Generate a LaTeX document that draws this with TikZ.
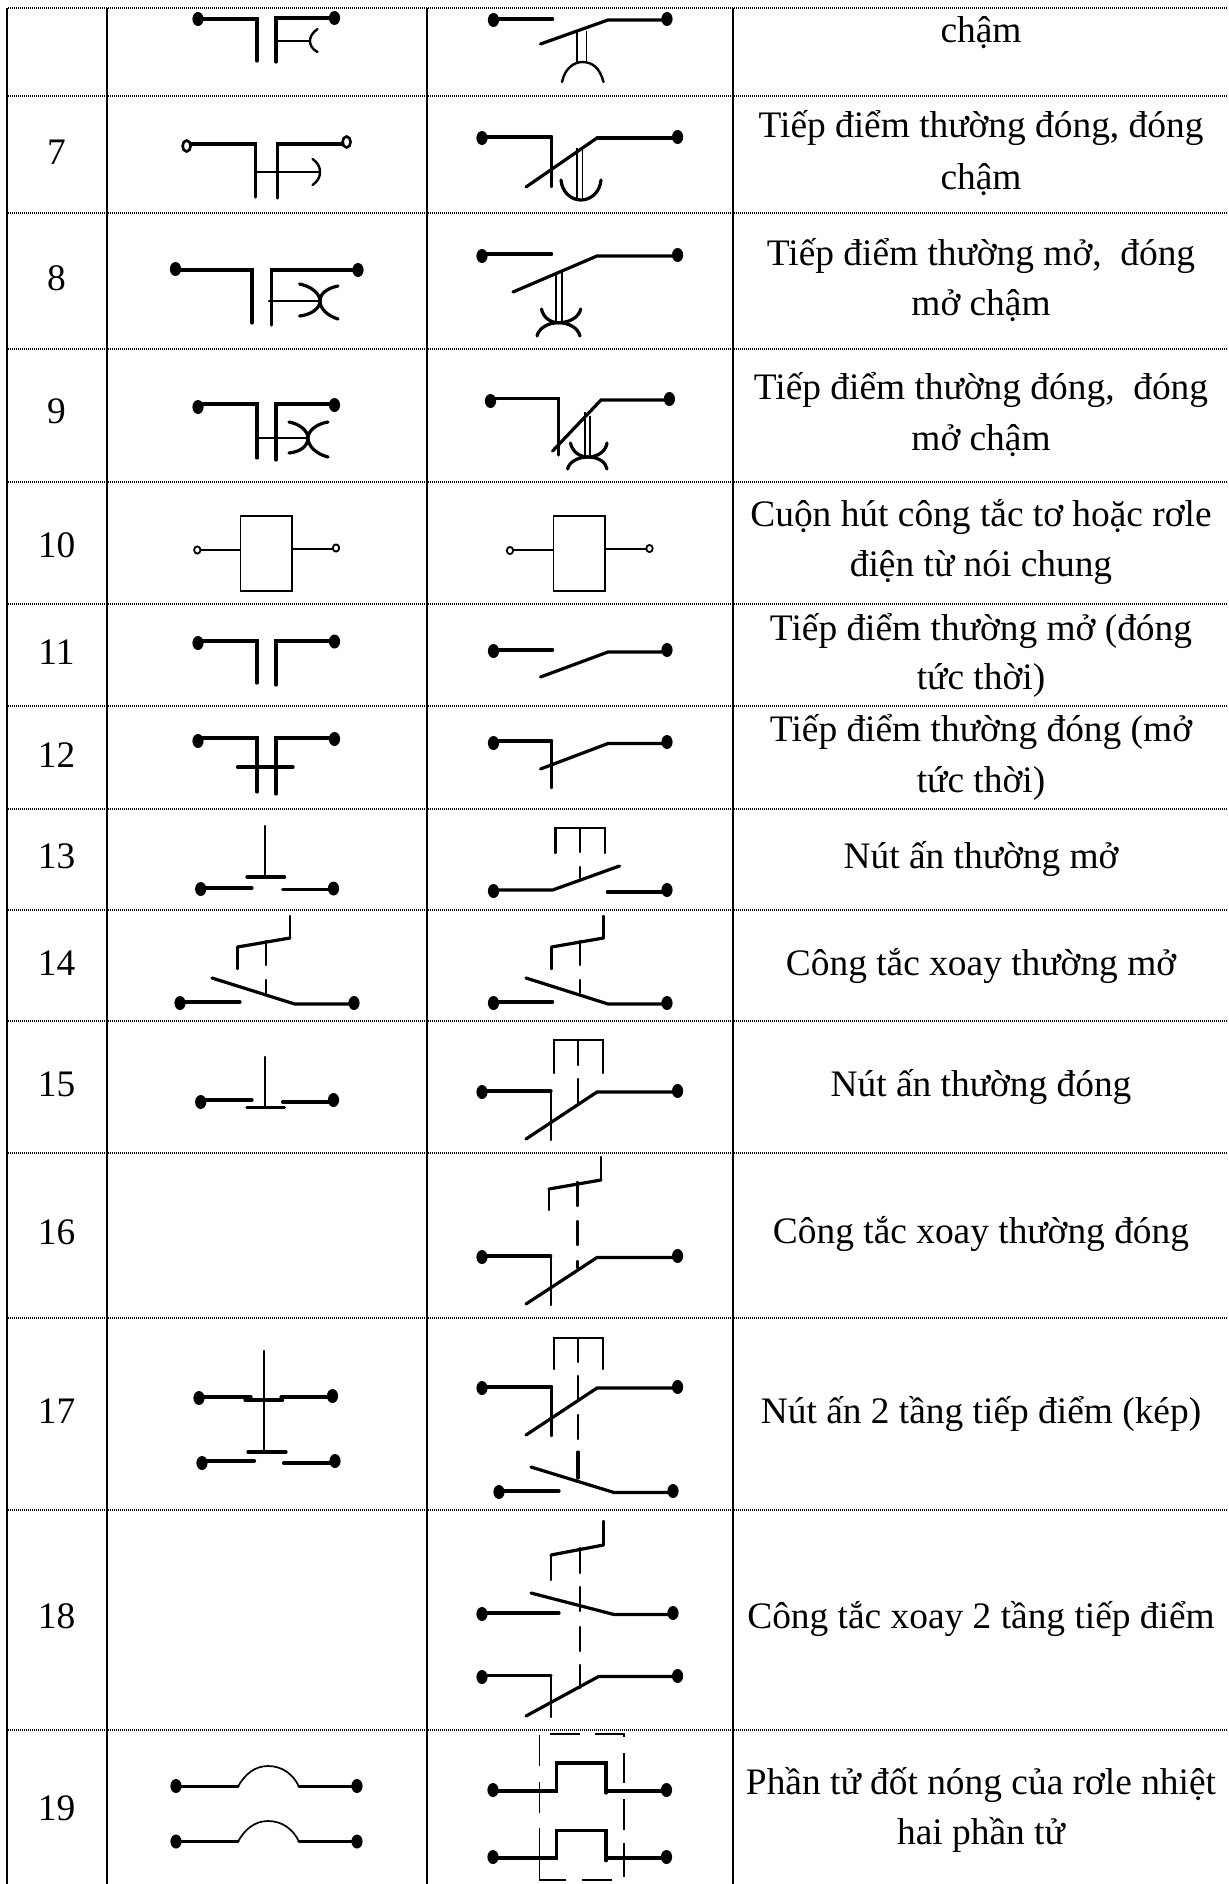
\documentclass[tikz,border=0pt]{standalone}
\usepackage{fontspec}
\setmainfont{Liberation Serif}
\tikzset{
  wire/.style={line width=1.6pt,line cap=round,line join=miter},
  fine/.style={line width=1.2pt,line cap=round,line join=miter},
  thinl/.style={line width=0.85pt,line join=miter},
  hair/.style={line width=0.7pt},
  vrule/.style={line width=1.4pt},
  hrule/.style={line width=0.8pt,dash pattern=on 0.5pt off 0.5pt},
  txt/.style={inner sep=0pt,anchor=base,font=\fontsize{18.7}{22}\selectfont}
}
\newcommand{\sdot}[2]{\fill (#1,#2) ellipse [x radius=5.6,y radius=7];}
\newcommand{\hdot}[2]{\draw[line width=1.3pt,fill=white] (#1,#2) ellipse [x radius=4,y radius=5.5];}
\newcommand{\mdot}[2]{\draw[line width=.9pt,fill=white] (#1,#2) ellipse [x radius=3.2,y radius=3.6];}
\begin{document}
\begin{tikzpicture}[x=0.5pt,y=-0.5pt]
\useasboundingbox (0,0) rectangle (1228,1884);
\fill[white] (0,0) rectangle (1228,1884);
% table rules
\foreach \yy in {8,96,213,349,482,604,706,809,910,1021,1153,1318,1510,1730}
  \draw[hrule] (8,\yy) -- (1228,\yy);
\foreach \xx in {7,107,427,733}
  \draw[vrule] (\xx,8) -- (\xx,1884);
% numbers
\node[txt] (n7) at (56.5,164) {7};
\node[txt] (n8) at (56.5,290) {8};
\node[txt] (n9) at (56.5,423) {9};
\node[txt] (n10) at (56.5,557) {10};
\node[txt] (n11) at (56.5,664) {11};
\node[txt] (n12) at (56.5,767) {12};
\node[txt] (n13) at (56.5,868) {13};
\node[txt] (n14) at (56.5,975) {14};
\node[txt] (n15) at (56.5,1096) {15};
\node[txt] (n16) at (56.5,1244) {16};
\node[txt] (n17) at (56.5,1423) {17};
\node[txt] (n18) at (56.5,1628) {18};
\node[txt] (n19) at (56.5,1820) {19};
% descriptions
\node[txt] (d6b) at (981,43) {chậm};
\node[txt] (d7a) at (981,138) {Tiếp điểm thường đóng, đóng};
\node[txt] (d7b) at (981,189) {chậm};
\node[txt] (d8a) at (981,265) {Tiếp điểm thường mở,\ \ đóng};
\node[txt] (d8b) at (981,315) {mở chậm};
\node[txt] (d9a) at (981,399) {Tiếp điểm thường đóng,\ \ đóng};
\node[txt] (d9b) at (981,450) {mở chậm};
\node[txt] (d10a) at (981,526) {Cuộn hút công tắc tơ hoặc rơle};
\node[txt] (d10b) at (981,576) {điện từ nói chung};
\node[txt] (d11a) at (981,640) {Tiếp điểm thường mở (đóng};
\node[txt] (d11b) at (981,689) {tức thời)};
\node[txt] (d12a) at (981,741) {Tiếp điểm thường đóng (mở};
\node[txt] (d12b) at (981,792) {tức thời)};
\node[txt] (d13) at (981,868) {Nút ấn thường mở};
\node[txt] (d14) at (981,975) {Công tắc xoay thường mở};
\node[txt] (d15) at (981,1096) {Nút ấn thường đóng};
\node[txt] (d16) at (981,1243) {Công tắc xoay thường đóng};
\node[txt] (d17) at (981,1423) {Nút ấn 2 tầng tiếp điểm (kép)};
\node[txt] (d18) at (981,1628) {Công tắc xoay 2 tầng tiếp điểm};
\node[txt] (d19a) at (981,1794) {Phần tử đốt nóng của rơle nhiệt};
\node[txt] (d19b) at (981,1844) {hai phần tử};
% ---- row 6
\sdot{198}{19}\draw[wire] (198,19)--(257,19)--(257,61);
\sdot{334.5}{18}\draw[wire] (276,62)--(276,18)--(334.5,18);
\draw[fine] (276,41)--(310,41);
\draw[fine] (317.5,29) .. controls (312,33) and (310,37) .. (310,41) .. controls (310,45) and (312,49) .. (317.5,52);
\sdot{493.5}{20}\draw[wire] (493.5,19)--(552.6,19);
\sdot{667}{19}\draw[wire] (667,20)--(608,20)--(540.5,44);
\draw[thinl] (577,31)--(577,62) (586.5,31)--(586.5,62);
\draw[fine] (562,82) .. controls (565,68) and (574,62) .. (582.6,62) .. controls (592,62) and (600,68) .. (603.5,82);
% ---- row 7
\draw[wire] (186.6,144)--(255.5,144)--(255.5,197);
\draw[wire] (277.7,198)--(277.7,144)--(346.6,144);
\hdot{186.6}{146}\hdot{346.6}{142}
\draw[fine] (255.5,172)--(320,172);
\draw[fine] (312.6,159) .. controls (318,163) and (320,167) .. (320,172) .. controls (320,177) and (318,181) .. (312.6,185);
\sdot{482}{138}\draw[wire] (482,137)--(551.6,137);
\draw[fine] (551.6,137)--(551.6,187);
\sdot{677.6}{137}\draw[wire] (677.6,138)--(597,138);\draw[wire] (597,138)--(526,187);
\draw[thinl] (577,148)--(577,200) (582.6,148)--(582.6,200);
\draw[wire] (561,180) .. controls (562,192) and (571,200) .. (581,200) .. controls (591,200) and (600,192) .. (601,180);
% ---- row 8
\sdot{175.5}{269}\draw[wire] (175.5,270)--(252,270)--(252,323);
\sdot{358}{270}\draw[wire] (271.5,325)--(271.5,270)--(358,270);
\draw[fine] (269,301)--(320,301);
\draw[wire] (299.6,284) .. controls (310,286) and (320,293) .. (320,301) .. controls (320,309) and (310,315) .. (299.6,316);
\draw[wire] (338,286) .. controls (328,288) and (320,293) .. (320,301) .. controls (320,309) and (328,316) .. (338,319);
\sdot{482}{256}\draw[wire] (482,254)--(551.6,254);
\sdot{677.6}{255}\draw[wire] (677.6,256)--(597,256)--(513,292);
\draw[thinl] (556,272)--(556,322) (562,272)--(562,322);
\draw[wire] (541.5,309) .. controls (543,317) and (550,322.7) .. (558.5,322.7) .. controls (570,322.7) and (579,317) .. (580.7,309);
\draw[wire] (537,336) .. controls (539,328) and (548,322.7) .. (558.5,322.7) .. controls (569,322.7) and (578,328) .. (580,336);
% ---- row 9
\sdot{198}{407}\draw[wire] (198,404)--(257,404)--(257,458);
\sdot{334.5}{405}\draw[wire] (276,460)--(276,404)--(334.5,404);
\draw[fine] (257,438)--(308,438);
\draw[wire] (289,422) .. controls (300,424) and (308,431) .. (308,438) .. controls (308,446) and (300,452) .. (289,453);
\draw[wire] (328,422) .. controls (316,424) and (308,431) .. (308,438) .. controls (308,446) and (316,454) .. (328,457);
\sdot{490.5}{401}\draw[wire] (490.5,398.5)--(558.5,398.5)--(558.5,455);
\sdot{669.4}{399}\draw[wire] (669.4,400)--(601,400)--(552.6,451);
\draw[thinl] (585,412)--(585,455) (590,416)--(590,455);
\draw[wire] (570.5,443) .. controls (572,451) and (579,457) .. (588,457) .. controls (598,457) and (606,451) .. (607,443);
\draw[wire] (567.6,469) .. controls (569,462) and (578,457) .. (588,457) .. controls (598,457) and (606,462) .. (607,469);
% ---- row 10
\draw[thinl] (240.4,515.7) rectangle (291.8,591);
\draw[thinl] (197.3,550)--(240.4,550) (291.8,549)--(336,549);
\mdot{197.3}{550}\mdot{336}{548}
\draw[thinl] (553.6,515.7) rectangle (605,591);
\draw[thinl] (510,550)--(553.6,550) (605,549)--(649.5,549);
\mdot{510}{550.5}\mdot{649.5}{548.5}
% ---- row 11
\sdot{198}{643}\draw[wire] (198,641)--(257,641)--(257,683);
\sdot{334.5}{641.5}\draw[wire] (276,685)--(276,641)--(334.5,641);
\sdot{493.5}{651}\draw[wire] (493.5,650)--(552.6,650);
\sdot{667}{650}\draw[wire] (667,652)--(608,652)--(540.5,677);
% ---- row 12
\sdot{198}{741}\draw[wire] (198,738)--(257,738)--(257,792);
\sdot{334.5}{739}\draw[wire] (276,794)--(276,738)--(334.5,738);
\draw[wire] (237.5,767)--(293,767);
\sdot{493.5}{743}\draw[wire] (493.5,741)--(551.6,741);\draw[fine] (551.6,741)--(551.6,788);
\sdot{667}{742}\draw[wire] (667,743.5)--(608,743.5)--(540.5,769);
% ---- row 13
\draw[fine] (265,826)--(265,877);\draw[wire] (247,877)--(284.5,877);
\sdot{200.7}{889}\draw[wire] (200.7,888)--(252,888);
\sdot{333.5}{888.5}\draw[wire] (282.6,889.5)--(333.5,889.5);
\draw[fine] (555.5,853)--(555.5,828)--(605,828)--(605,853) (580,828)--(580,852);
\draw[fine] (580,867)--(580,879);
\sdot{493.5}{891}\draw[wire] (493.5,890)--(552.6,890)--(619.5,866);
\sdot{667}{890}\draw[wire] (607.4,892)--(667,892);
% ---- row 14
\draw[fine] (237.5,969)--(237.5,947);\draw[wire] (237.5,947)--(290,938);\draw[fine] (290,938)--(290,916);
\draw[fine] (266,941)--(266,965) (266,980)--(266,993);
\sdot{180}{1003}\draw[wire] (180,1002)--(240,1002);
\sdot{354}{1003}\draw[wire] (354,1004)--(294.7,1004)--(212,978);
\draw[fine] (551.6,969)--(551.6,947);\draw[wire] (551.6,947)--(603.5,938);\draw[fine] (603.5,938)--(603.5,916);
\draw[fine] (579.7,941)--(579.7,965) (579.7,980)--(579.7,993);
\sdot{493.5}{1003}\draw[wire] (493.5,1002)--(552.6,1002);
\sdot{667}{1003}\draw[wire] (667,1004)--(608,1004)--(526,978);
% ---- row 15
\draw[fine] (265,1057)--(265,1107);\draw[wire] (247,1107.5)--(284.5,1107.5);
\sdot{200.7}{1102}\draw[wire] (200.7,1100)--(252,1100);
\sdot{333.5}{1100}\draw[wire] (282.6,1102)--(333.5,1102);
\draw[fine] (554,1073)--(554,1040)--(603,1040)--(603,1073) (578,1040)--(578,1065);
\draw[fine] (578,1079)--(578,1104);
\sdot{482}{1092}\draw[wire] (482,1091)--(551,1091);\draw[fine] (551,1091)--(551,1140);
\sdot{677.6}{1091}\draw[wire] (677.6,1092)--(597,1092)--(526,1139);
% ---- row 16
\draw[fine] (549,1210)--(549,1189);\draw[wire] (549,1189)--(601,1180);\draw[fine] (601,1180)--(601,1157);
\draw[fine] (577.3,1182)--(577.3,1206) (577.3,1221)--(577.3,1245) (577.3,1261)--(577.3,1268);
\sdot{482}{1257}\draw[wire] (482,1256)--(550.7,1256);\draw[fine] (550.7,1256)--(550.7,1305);
\sdot{677.6}{1256}\draw[wire] (677.6,1257.5)--(597,1257.5)--(526,1304);
% ---- row 17
\draw[fine] (264,1351)--(264,1452);
\draw[wire] (245,1400)--(282.6,1400) (248,1452)--(286,1452);
\sdot{199}{1398}\draw[wire] (199,1397)--(251,1397);
\sdot{332.5}{1396}\draw[wire] (281,1397)--(332.5,1397);
\sdot{202}{1463}\draw[wire] (202,1461)--(254.5,1461);
\sdot{335}{1461}\draw[wire] (283.6,1463)--(335,1463);
\draw[fine] (554,1369)--(554,1338)--(603,1338)--(603,1369) (578,1338)--(578,1362);
\draw[fine] (578,1376)--(578,1400) (578,1415)--(578,1439);
\draw[wire] (578,1452)--(578,1478);
\sdot{482}{1388}\draw[wire] (482,1387)--(551.6,1387);\draw[fine] (551.6,1387)--(551.6,1436);
\sdot{677.6}{1387}\draw[wire] (677.6,1388)--(597,1388)--(526,1435);
\sdot{499}{1492}\draw[wire] (499,1491)--(559,1491);
\sdot{673}{1491}\draw[wire] (673,1492.5)--(614,1492.5)--(531,1467);
% ---- row 18
\draw[fine] (551,1580)--(551,1555);\draw[wire] (551,1555)--(603.5,1545);\draw[fine] (603.5,1545)--(603.5,1521);
\draw[fine] (579.7,1548)--(579.7,1573) (579.7,1587)--(579.7,1611) (579.7,1627)--(579.7,1651) (579.7,1665)--(579.7,1688);
\sdot{482}{1614}\draw[wire] (482,1613)--(559,1613);
\sdot{673}{1613}\draw[wire] (673,1614.5)--(614,1614.5)--(531,1593);
\sdot{482}{1677}\draw[wire] (482,1675.5)--(551,1675.5);\draw[fine] (551,1675.5)--(551,1717);
\sdot{677.6}{1676}\draw[wire] (677.6,1676.5)--(598.6,1676.5)--(526,1716);
% ---- row 19
\sdot{176}{1786}\sdot{357}{1786}
\draw[wire] (176,1786.5)--(238,1786.5) (299,1786.5)--(357,1786.5);
\draw[thinl] (238,1786.5) .. controls (245,1774) and (255,1766) .. (268,1766) .. controls (282,1766) and (293,1774) .. (299,1786.5);
\sdot{176}{1841.5}\sdot{357}{1841.5}
\draw[wire] (176,1841.5)--(238,1841.5) (299,1841.5)--(357,1841.5);
\draw[thinl] (238,1841.5) .. controls (245,1829) and (255,1821) .. (268,1821) .. controls (282,1821) and (293,1829) .. (299,1841.5);
\sdot{493}{1790}\draw[wire] (493,1791)--(556.5,1791)--(556.5,1763)--(606,1763)--(606,1793);
\sdot{666.5}{1790}\draw[wire] (607.4,1791)--(666.5,1791);
\sdot{493}{1857}\draw[wire] (493,1858)--(556.5,1858)--(556.5,1830.7)--(606,1830.7)--(606,1860.7);
\sdot{666.5}{1857}\draw[wire] (607.4,1858)--(666.5,1858);
\draw[hair] (539.5,1735)--(539.5,1766) (539.5,1782)--(539.5,1813) (539.5,1828)--(539.5,1880)--(565.7,1880) (581.7,1880)--(611.7,1880);
\draw[hair] (550,1734)--(580,1734) (595,1734)--(624,1734)--(624,1737) (624,1753)--(624,1783) (624,1799)--(624,1830) (624,1843)--(624,1877);
\end{tikzpicture}
\end{document}
